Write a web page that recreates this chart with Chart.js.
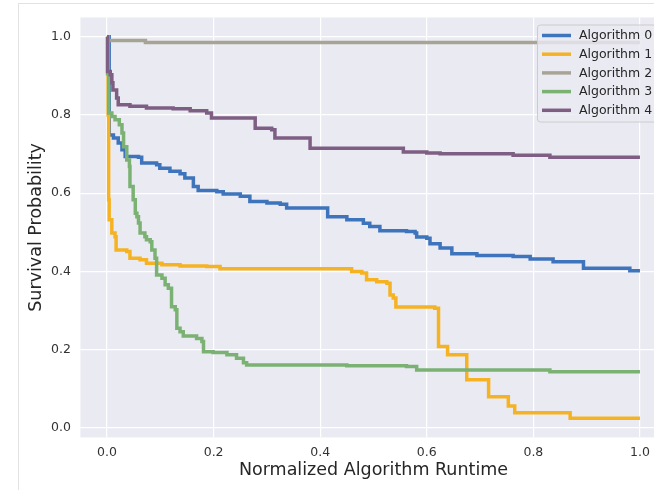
<!DOCTYPE html>
<html>
<head>
<meta charset="utf-8">
<script src="https://cdn.jsdelivr.net/npm/chart.js@4"></script>
<style>
  body{ margin:0; background:#fff; overflow:hidden; }
  #wrap{ position:relative; width:654px; height:490px; overflow:hidden; }
  #frame{ position:absolute; left:18px; top:3px; right:0; bottom:0; border-left:1px solid #e2e2e2; border-top:1px solid #e2e2e2; }
  #c{ position:absolute; left:0; top:0; }
</style>
</head>
<body>
<div id="wrap">
  <div id="frame"></div>
  <canvas id="c" width="700" height="490"></canvas>
</div>
<script>
// survival curves (x = normalized runtime, y = survival probability)
const labels = ['Algorithm 0','Algorithm 1','Algorithm 2','Algorithm 3','Algorithm 4'];
const colors = ['#3d74bb','#f5b324','#a8a495','#7bb274','#7f5e84'];

const alg0X = [0,0.004,0.012,0.021,0.028,0.034,0.059,0.065,0.093,0.099,0.118,0.137,0.146,0.162,0.171,0.206,0.218,0.250,0.268,0.300,0.325,0.337,0.414,0.450,0.481,0.493,0.512,0.562,0.578,0.581,0.600,0.606,0.625,0.647,0.694,0.762,0.794,0.837,0.894,0.981,1.0];
const alg0Y = [1.0,0.749,0.741,0.728,0.711,0.694,0.692,0.677,0.673,0.664,0.656,0.650,0.639,0.617,0.607,0.604,0.598,0.592,0.579,0.575,0.572,0.562,0.540,0.532,0.523,0.515,0.504,0.502,0.498,0.488,0.485,0.471,0.460,0.445,0.441,0.438,0.432,0.425,0.408,0.402,0.402];

const alg1X = [0,0.002,0.003,0.004,0.009,0.015,0.017,0.037,0.043,0.062,0.074,0.103,0.137,0.187,0.212,0.459,0.478,0.487,0.506,0.525,0.531,0.537,0.542,0.615,0.622,0.639,0.675,0.716,0.753,0.765,0.869,1.0];
const alg1Y = [1.0,0.80,0.583,0.532,0.498,0.489,0.455,0.451,0.434,0.430,0.421,0.417,0.414,0.413,0.407,0.400,0.396,0.379,0.374,0.370,0.340,0.332,0.309,0.306,0.208,0.187,0.123,0.080,0.056,0.039,0.025,0.025];

const alg2X = [0,0.002,0.072,1.0];
const alg2Y = [1.0,0.990,0.985,0.985];

const alg3X = [0,0.001,0.003,0.009,0.015,0.023,0.028,0.031,0.037,0.042,0.043,0.049,0.053,0.056,0.059,0.062,0.071,0.074,0.081,0.084,0.090,0.093,0.103,0.109,0.115,0.121,0.128,0.131,0.137,0.143,0.168,0.178,0.181,0.199,0.225,0.243,0.256,0.262,0.450,0.562,0.581,0.831,1.0];
const alg3Y = [1.0,0.905,0.805,0.796,0.788,0.775,0.754,0.719,0.685,0.668,0.617,0.583,0.549,0.540,0.524,0.498,0.489,0.481,0.476,0.455,0.434,0.391,0.383,0.366,0.357,0.310,0.302,0.255,0.246,0.235,0.229,0.221,0.195,0.193,0.187,0.178,0.167,0.161,0.159,0.157,0.148,0.144,0.144];

const alg4X = [0,0.001,0.006,0.009,0.011,0.018,0.021,0.043,0.074,0.124,0.156,0.187,0.196,0.278,0.309,0.315,0.381,0.556,0.600,0.625,0.762,0.831,1.0];
const alg4Y = [1.0,0.911,0.903,0.882,0.864,0.843,0.826,0.822,0.818,0.816,0.811,0.805,0.792,0.766,0.762,0.741,0.715,0.705,0.703,0.701,0.697,0.692,0.692];

const xTicks = [0,0.2,0.4,0.6,0.8,1.0];
const yTicks = [0,0.2,0.4,0.6,0.8,1.0];

const seriesX = [alg0X, alg1X, alg2X, alg3X, alg4X];
const seriesY = [alg0Y, alg1Y, alg2Y, alg3Y, alg4Y];

const FONT = 'DejaVu Sans';

// axes background (seaborn darkgrid look)
const bgPlugin = {
  id:'bg',
  beforeDraw(chart){
    const {ctx, chartArea:a} = chart;
    ctx.save(); ctx.fillStyle = '#eaeaf2';
    ctx.fillRect(a.left, a.top, a.right-a.left, a.bottom-a.top);
    ctx.restore();
  }
};

// legend box inside the plot, upper right
const legendPlugin = {
  id:'boxLegend',
  afterDraw(chart){
    const ctx = chart.ctx, a = chart.chartArea;
    const bx = 537.5, by = a.top + 7.5, bw = 150, bh = 97, r = 3;
    ctx.save();
    ctx.beginPath();
    ctx.roundRect(bx, by, bw, bh, r);
    ctx.fillStyle = 'rgba(234,234,242,0.8)'; ctx.fill();
    ctx.strokeStyle = '#cccccc'; ctx.lineWidth = 1; ctx.stroke();
    ctx.font = '12.5px "' + FONT + '"';
    ctx.textBaseline = 'middle'; ctx.textAlign = 'left';
    chart.data.datasets.forEach((ds, i)=>{
      const y = by + 10.5 + i*18.7;
      ctx.beginPath(); ctx.moveTo(542, y); ctx.lineTo(571, y);
      ctx.strokeStyle = ds.borderColor; ctx.lineWidth = 3.5; ctx.stroke();
      ctx.fillStyle = '#262626';
      ctx.fillText(ds.label, 579, y + 0.5);
    });
    ctx.restore();
  }
};

// stepped 'before': hold the previous value, then drop at the next x
const datasets = labels.map((lab, i)=>({
  label: lab,
  data: seriesX[i].map((x, j)=>({x, y: seriesY[i][j]})),
  borderColor: colors[i],
  borderWidth: 3.5,
  stepped: 'before',
  pointRadius: 0,
  fill: false,
  order: labels.length - i
}));

new Chart(document.getElementById('c'), {
  type:'line',
  data:{ datasets },
  plugins:[bgPlugin, legendPlugin],
  options:{
    responsive:false, animation:false, devicePixelRatio:1,
    layout:{ padding:{ left:0, top:17.5, right:33.4, bottom:0 } },
    plugins:{ legend:{display:false}, tooltip:{enabled:false} },
    scales:{
      x:{
        type:'linear', min:-0.05, max:1.05,
        afterBuildTicks: s => { s.ticks = xTicks.map(v=>({value:v})); },
        afterFit: s => { s.height = 52.6; },
        grid:{ color:'#ffffff', lineWidth:1.2, drawTicks:false },
        border:{ display:false },
        ticks:{ padding:8, color:'#333', font:{family:FONT, size:12.5}, callback: v => Number(v).toFixed(1), maxRotation:0 },
        title:{ display:true, text:'Normalized Algorithm Runtime', color:'#262626', font:{family:FONT, size:17.5}, padding:{top:0, bottom:9.5} }
      },
      y:{
        type:'linear', min:-0.024, max:1.049,
        afterBuildTicks: s => { s.ticks = yTicks.map(v=>({value:v})); },
        afterFit: s => { s.width = 80.4; },
        grid:{ color:'#ffffff', lineWidth:1.2, drawTicks:false },
        border:{ display:false },
        ticks:{ padding:9.5, color:'#333', font:{family:FONT, size:12.5}, callback: v => Number(v).toFixed(1) },
        title:{ display:true, text:'Survival Probability', color:'#262626', font:{family:FONT, size:17.5}, padding:{top:25.5, bottom:0} }
      }
    }
  }
});
</script>
</body>
</html>
